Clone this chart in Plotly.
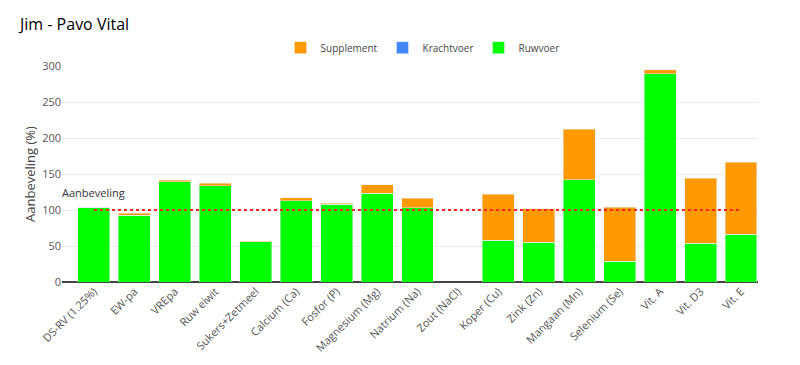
import plotly.graph_objects as go

categories = ["DS-RV (1.25%)", "EW-pa", "VREpa", "Ruw eiwit", "Sukers+Zetmeel",
              "Calcium (Ca)", "Fosfor (P)", "Magnesium (Mg)", "Natrium (Na)",
              "Zout (NaCl)", "Koper (Cu)", "Zink (Zn)", "Mangaan (Mn)",
              "Selenium (Se)", "Vit. A", "Vit. D3", "Vit. E"]
ruwvoer = [103, 93, 139, 134, 56, 113, 108, 123, 103, 0, 58, 55, 142, 29, 289, 54, 66.5]
krachtvoer = [0] * 17
supplement = [0, 2.5, 2, 3, 0.5, 4, 1.5, 12, 13.5, 0, 64, 47, 70, 75, 6, 90, 99.5]
aanbeveling = [100] * 17

fig = go.Figure()
fig.add_trace(go.Bar(name="Ruwvoer", x=categories, y=ruwvoer, marker_color="#00ff00"))
fig.add_trace(go.Bar(name="Krachtvoer", x=categories, y=krachtvoer, marker_color="#4285f4"))
fig.add_trace(go.Bar(name="Supplement", x=categories, y=supplement, marker_color="#ff9900"))
fig.add_trace(go.Scatter(x=categories, y=aanbeveling, mode="lines", showlegend=False,
                         line=dict(color="#ff2020", width=2, dash="dot")))

fig.add_annotation(x=categories[0], y=100, text="Aanbeveling", showarrow=False,
                   yshift=18, font=dict(size=11, color="#333333"))

fig.update_layout(
    width=800, height=365,
    barmode="stack", bargap=0.21,
    plot_bgcolor="white", paper_bgcolor="white",
    font=dict(family="Open Sans", color="#444444"),
    title=dict(text="Jim - Pavo Vital", x=0.015, xanchor="left", y=0.955, yanchor="middle",
               font=dict(size=16, color="#000000", family="Open Sans")),
    margin=dict(l=54, r=50, t=58, b=91),
    legend=dict(orientation="h", x=0.518, xanchor="center", y=1.085, yanchor="middle",
                traceorder="reversed", font=dict(size=10, color="#444444"),
                itemwidth=30),
    showlegend=True,
)
fig.update_xaxes(range=[-0.79, 16.42], tickangle=-45, tickfont=dict(size=11, color="#555555"),
                 showgrid=False, showline=False, ticks="", automargin=False)
fig.update_yaxes(range=[0, 300], tickvals=[0, 50, 100, 150, 200, 250, 300],
                 gridcolor="#ebebeb", zeroline=True, zerolinecolor="#444444", zerolinewidth=2,
                 tickfont=dict(size=11, color="#555555"), automargin=False,
                 title=dict(text="Aanbeveling (%)", font=dict(size=13, color="#444444"), standoff=3))

fig.write_html("out.html")
